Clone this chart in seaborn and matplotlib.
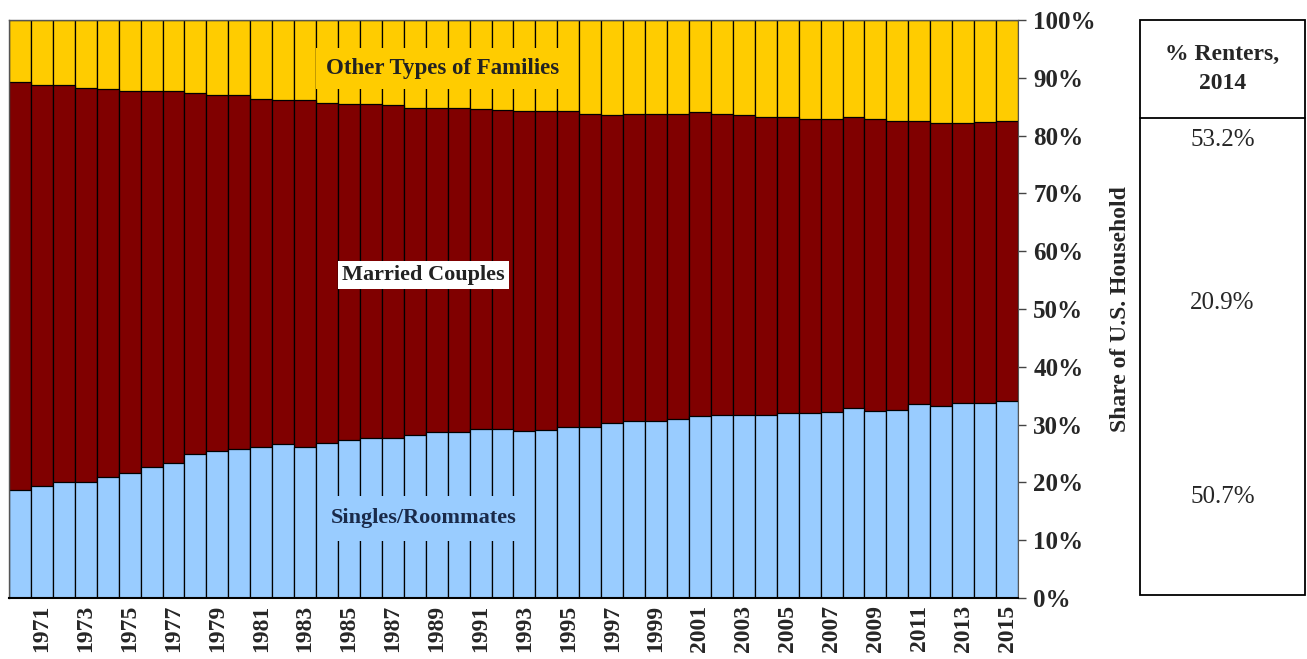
import numpy as np
import pandas as pd
import matplotlib
matplotlib.use("Agg")
import matplotlib.pyplot as plt
import seaborn as sns
from matplotlib.patches import Rectangle

# --- data (share of US households, %) ---
YEARS = list(range(1970, 2016))
SINGLES = [18.7, 19.3, 20.1, 20.1, 21.0, 21.7, 22.7, 23.4, 24.9, 25.4,
           25.8, 26.2, 26.7, 26.2, 26.9, 27.3, 27.7, 27.6, 28.2, 28.8,
           28.8, 29.3, 29.3, 28.9, 29.1, 29.5, 29.5, 30.2, 30.6, 30.6,
           30.9, 31.5, 31.7, 31.7, 31.7, 32.0, 32.0, 32.1, 32.8, 32.4,
           32.6, 33.5, 33.2, 33.7, 33.7, 34.1]
# top of married couples band (singles + married)
MARRIED_TOP = [89.2, 88.8, 88.8, 88.2, 88.1, 87.7, 87.7, 87.7, 87.3, 87.0,
               87.0, 86.4, 86.2, 86.2, 85.7, 85.5, 85.5, 85.3, 84.8, 84.8,
               84.8, 84.6, 84.4, 84.3, 84.3, 84.3, 83.8, 83.6, 83.8, 83.8,
               83.8, 84.0, 83.8, 83.6, 83.2, 83.2, 82.9, 82.9, 83.2, 82.9,
               82.5, 82.5, 82.1, 82.1, 82.3, 82.5]
MARRIED = [round(t - s, 1) for t, s in zip(MARRIED_TOP, SINGLES)]
OTHER = [round(100 - t, 1) for t in MARRIED_TOP]

RENTER_HEADER = "% Renters,\n2014"
RENTER_VALUES = ["53.2%", "20.9%", "50.7%"]

COLORS = {
    "Other": "#FFCC00",
    "Married": "#800000",
    "Singles": "#99CCFF",
}

df = pd.DataFrame({"Year": YEARS, "Singles": SINGLES,
                   "Married": MARRIED, "Other": OTHER})
df["MarriedTop"] = df["Singles"] + df["Married"]
df["OtherTop"] = df["MarriedTop"] + df["Other"]

sns.set_style("white")
plt.rcParams["font.family"] = ["Liberation Serif", "DejaVu Serif"]

W, H = 1307, 659
fig = plt.figure(figsize=(W / 100, H / 100), dpi=100)
ax = fig.add_axes([9 / W, 1 - 598 / H, (1018 - 9) / W, (598 - 20) / H])

# stacked bars: draw cumulative tops from largest to smallest
for col, key in [("OtherTop", "Other"), ("MarriedTop", "Married"), ("Singles", "Singles")]:
    sns.barplot(data=df, x="Year", y=col, color=COLORS[key], width=1.0,
                edgecolor="black", linewidth=0.9, saturation=1, ax=ax)

ax.set_xlim(-0.5, len(YEARS) - 0.5)
ax.set_ylim(0, 100)

# right-hand y axis
ax.yaxis.tick_right()
ax.yaxis.set_label_position("right")
ax.set_yticks(range(0, 101, 10))
ax.set_yticklabels([f"{v}%" for v in range(0, 101, 10)], fontsize=18, fontweight="bold")
ax.tick_params(axis="y", direction="out", length=6, width=1, color="#444444", pad=5)
ax.set_ylabel("Share of U.S. Household", fontsize=17, fontweight="bold", labelpad=10)

# x axis: labels on odd years, ticks at bar boundaries
pos = [i for i, y in enumerate(YEARS) if y % 2 == 1]
ax.set_xticks(pos)
ax.set_xticklabels([str(YEARS[i]) for i in pos], rotation=90, fontsize=17, fontweight="bold")
ax.set_xticks(np.arange(-0.5, len(YEARS), 1), minor=True)
ax.tick_params(axis="x", which="major", length=0, pad=5)
ax.tick_params(axis="x", which="minor", direction="out", length=6, width=1.2, color="black")
ax.set_xlabel("")

for side in ["top", "left"]:
    ax.spines[side].set_color("#555555")
    ax.spines[side].set_linewidth(1)
ax.spines["bottom"].set_color("black")
ax.spines["bottom"].set_linewidth(1.5)
ax.spines["right"].set_color("#555555")

# band labels
ax.text(19.25, 91.6, "Other Types of Families", ha="center", va="center", fontsize=16.5,
        fontweight="bold", color="#222222",
        bbox=dict(facecolor=COLORS["Other"], edgecolor="none", pad=7))
ax.text(18.4, 55.9, "Married Couples", ha="center", va="center", fontsize=16,
        fontweight="bold", color="#222222",
        bbox=dict(facecolor="white", edgecolor="none", pad=3))
ax.text(18.4, 13.8, "Singles/Roommates", ha="center", va="center", fontsize=16,
        fontweight="bold", color="#1a2a4a",
        bbox=dict(facecolor=COLORS["Singles"], edgecolor="none", pad=9))

# renter share table on the right
x0, x1 = 1140 / W, 1305 / W
y_top, y_div, y_bot = 1 - 20 / H, 1 - 118 / H, 1 - 595 / H
fig.patches.append(Rectangle((x0, y_bot), x1 - x0, y_top - y_bot, transform=fig.transFigure,
                             fill=False, edgecolor="black", linewidth=1.3))
fig.lines.append(plt.Line2D([x0, x1], [y_div, y_div], transform=fig.transFigure,
                            color="black", linewidth=1.3))
xc = (x0 + x1) / 2
fig.text(xc, (y_top + y_div) / 2, RENTER_HEADER, ha="center", va="center",
         fontsize=17, fontweight="bold", linespacing=1.5)
for val, ypx in zip(RENTER_VALUES, [140, 303, 497]):
    fig.text(xc, 1 - ypx / H, val, ha="center", va="center", fontsize=18)

fig.savefig("out.png", dpi=100)
